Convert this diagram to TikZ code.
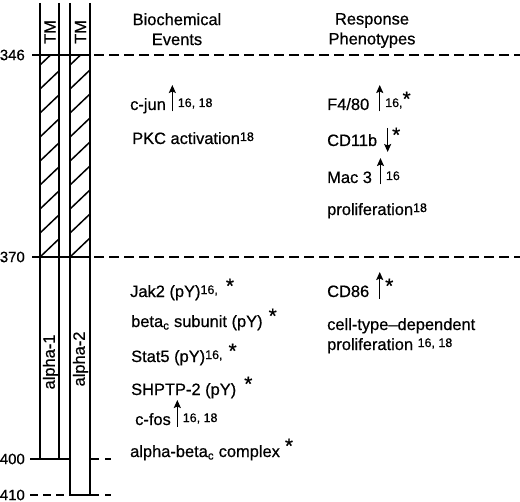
\documentclass[tikz,border=0pt]{standalone}
\usepackage{fontspec}
\setmainfont{Liberation Sans}[FakeBold=0.6]
\usetikzlibrary{arrows.meta,positioning}
\newcommand{\upar}{\hspace{3bp}\tikz[baseline=0bp]\draw[arrow] (0bp,-1.5bp) -- (0bp,25bp);\hspace{2bp}}
\newcommand{\dnar}{\hspace{3bp}\tikz[baseline=0bp]\draw[arrow] (0bp,18bp) -- (0bp,-6bp);\hspace{1bp}}
\newcommand{\rf}[1]{\raisebox{3bp}{\fontsize{12.5}{12.5}\selectfont #1}}
\newcommand{\sig}{\raisebox{4bp}{\fontsize{21}{21}\selectfont *}}

\begin{document}
\begin{tikzpicture}[
    x=1bp, y=-1bp,
    font=\fontsize{16.5}{20}\selectfont,
    lbl/.style={inner sep=0pt, anchor=base west},
    num/.style={inner sep=0pt, anchor=east, font=\fontsize{15}{16}\selectfont},
    bar/.style={line width=1.8bp},
    hatch/.style={line width=1.5bp},
    level/.style={line width=1.8bp, dash pattern=on 10bp off 5bp},
    arrow/.style={-{Stealth[length=8bp,width=7bp,inset=1.5bp]}, line width=1.5bp}
]
    \useasboundingbox (0,0) rectangle (520,502);

    % receptor chains
    \draw[bar] (40,3) -- (40,459) (59,3) -- (59,459);
    \draw[bar] (70,3) -- (70,495) (90,3) -- (90,495);
    \begin{scope}
        \clip (40,55) rectangle (59,257) (70,55) rectangle (90,257);
        \foreach \bx in {40,70} {
            \foreach \k in {0,...,8} {
                \draw[hatch] (\bx-1,65+24*\k+1) -- ++(22,-21);
            }
        }
    \end{scope}
    \node[rotate=90, inner sep=0pt] (tm1) at (50,32) {TM};
    \node[rotate=90, inner sep=0pt] (tm2) at (80.5,32) {TM};
    \node[rotate=90, inner sep=0pt] (a1) at (50.5,362) {alpha-1};
    \node[rotate=90, inner sep=0pt] (a2) at (80.5,359) {alpha-2};

    % residue levels
    \draw[bar] (32,55) -- (90,55);
    \draw[level] (94,55) -- (520,55);
    \draw[bar] (32,257) -- (90,257);
    \draw[level] (94,257) -- (520,257);
    \draw[bar] (30,459) -- (70,459);
    \draw[level, dash pattern=on 9bp off 6bp] (90,459) -- (111,459);
    \draw[level, dash pattern=on 8bp off 5bp] (30,495) -- (70,495);
    \draw[bar] (70,495) -- (90,495);
    \draw[level, dash pattern=on 9bp off 6bp] (90,495) -- (111,495);
    \node[num] (n346) at (25,55) {346};
    \node[num] (n370) at (25,257) {370};
    \node[num] (n400) at (25,459) {400};
    \node[num] (n410) at (25,495) {410};

    % column heads
    \node[inner sep=0pt, anchor=north, align=center] (bio) at (177,13) {Biochemical\\Events};
    \node[inner sep=0pt, anchor=north, align=center] (resp) at (372,13) {Response\\Phenotypes};

    % biochemical events
    \node[lbl] (cjun) at (130,110) {c-jun\upar\rf{16, 18}};
    \node[lbl] (pkc) at (132,144) {PKC activation\rf{18}};
    \node[lbl] (jak) at (130,297) {Jak2 (pY)\rf{16,}\hspace{8bp}\sig};
    \node[lbl] (betac) at (131,327) {beta\textsubscript{c} subunit (pY)\hspace{6bp}\sig};
    \node[lbl] (stat) at (131,362) {Stat5 (pY)\rf{16,}\hspace{6bp}\sig};
    \node[lbl] (shp) at (131,395) {SHPTP-2 (pY)\hspace{8bp}\sig};
    \node[lbl] (cfos) at (135,425) {c-fos\upar\rf{16, 18}};
    \node[lbl] (cplx) at (130,457) {alpha-beta\textsubscript{c} complex\hspace{5bp}\sig};

    % response phenotypes
    \node[lbl] (f480) at (327,110) {F4/80\hspace{4bp}\upar\rf{16,}\sig};
    \node[lbl] (cd11b) at (327,146) {CD11b\hspace{4bp}\dnar\sig};
    \node[lbl] (mac) at (327,183) {Mac 3\hspace{2bp}\upar\rf{16}};
    \node[lbl] (prol) at (327,215) {proliferation\rf{18}};
    \node[lbl] (cd86) at (327,297) {CD86\hspace{4bp}\upar\sig};
    \node[lbl] (ctype) at (327,330) {cell-type–dependent};
    \node[lbl] (prol2) at (327,350) {proliferation \rf{16, 18}};
\end{tikzpicture}
\end{document}
